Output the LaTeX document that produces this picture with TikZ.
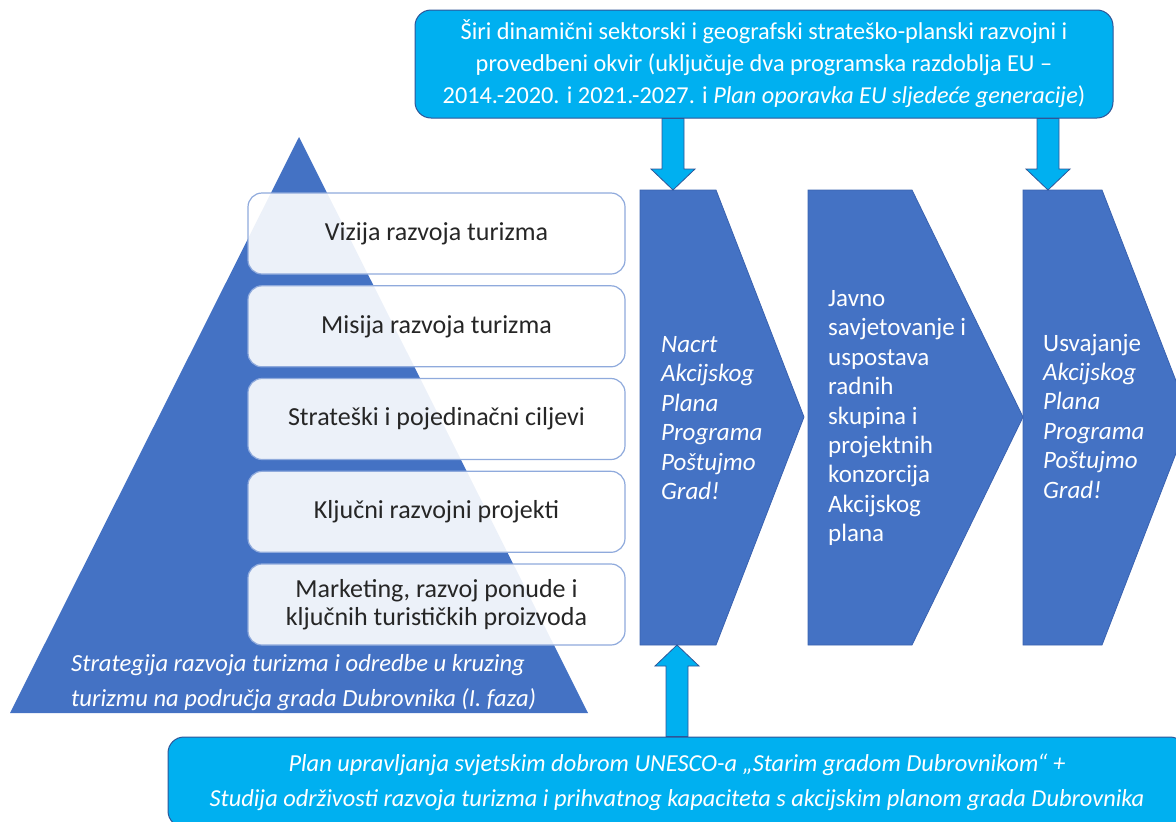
\documentclass[tikz,border=0pt]{standalone}
\usepackage{fontspec}
\setmainfont{Carlito}
\usepackage{tikz}
\usetikzlibrary{calc, arrows.meta}
\definecolor{dbblue}{RGB}{68, 114, 196}
\definecolor{dbedge}{RGB}{58, 98, 176}
\definecolor{dbcyan}{RGB}{0, 176, 240}
\definecolor{dbcyanedge}{RGB}{47, 85, 151}
\definecolor{dbframe}{RGB}{143, 170, 220}
\tikzset{
    pyrbox/.style={draw=dbframe, line width=1.2pt, fill=white, fill opacity=0.9, text opacity=1,
        rounded corners=14pt, minimum width=377pt, minimum height=81pt, align=center,
        font=\fontsize{26}{27.5}\selectfont, text=black!85},
    framebox/.style={draw=dbcyanedge, line width=1pt, fill=dbcyan, rounded corners=16pt,
        align=center, text=white, font=\fontsize{24.3}{32}\selectfont},
    stepshape/.style={draw=dbedge, line width=0.8pt, fill=dbblue},
    steptext/.style={anchor=west, align=left, text=white, inner sep=0pt,
        font=\fontsize{25}{29.4}\selectfont},
    blockarrow/.style={draw=dbcyanedge, line width=0.8pt, fill=dbcyan}
}
\newcommand{\blockarrow}[2]{%
    \path[blockarrow] let \p1=(#1), \p2=(#2), \n1={sign(\y2-\y1)} in
        (\x1-11pt,\y1) -- (\x1-11pt,{\y2-\n1*21pt}) -- (\x1-22pt,{\y2-\n1*21pt}) -- (\x2,\y2)
        -- (\x1+22pt,{\y2-\n1*21pt}) -- (\x1+11pt,{\y2-\n1*21pt}) -- (\x1+11pt,\y1) -- cycle;}
\begin{document}
\begin{tikzpicture}[x=1pt, y=-1pt]
\useasboundingbox (0,0) rectangle (1176,822);
\clip (0,0) rectangle (1176,822);

\fill[dbblue] (299,137) coordinate (apex) -- (588,713) -- (10,713) -- cycle;
\node[anchor=west, align=left, text=white, inner sep=0pt, font=\fontsize{24.6}{35}\selectfont\itshape]
    (strategy) at (71,683) {Strategija razvoja turizma i odredbe u kruzing\\turizmu na područja grada Dubrovnika (I. faza)};

\foreach \y/\name/\txt in {233.5/vision/Vizija razvoja turizma,
                           326.3/mission/Misija razvoja turizma,
                           419/goals/Strateški i pojedinačni ciljevi,
                           511.8/projects/Ključni razvojni projekti,
                           604.5/marketing/{Marketing, razvoj ponude i\\ključnih turističkih proizvoda}}
    \node[pyrbox] (\name) at (436.5,\y) {\txt};

\path[stepshape] (640,190) coordinate (draft) -- (716,190) -- (804,417) -- (716,645) -- (640,645) coordinate (draftbot) -- cycle;
\path[stepshape] (808,190) coordinate (consult) -- (912,190) -- (1023,417) -- (912,645) -- (808,645) -- cycle;
\path[stepshape] (1023,190) coordinate (adopt) -- (1102,190) -- (1190,417) -- (1102,645) -- (1023,645) -- cycle;

\node[steptext] (drafttext) at (661,418) {\itshape Nacrt\\\itshape Akcijskog\\\itshape Plana\\\itshape Programa\\\itshape Poštujmo\\\itshape Grad!};
\node[steptext] (consulttext) at (828,418) {Javno\\savjetovanje i\\uspostava\\radnih\\skupina i\\projektnih\\konzorcija\\Akcijskog\\plana};
\node[steptext] (adopttext) at (1043,416) {Usvajanje\\\itshape Akcijskog\\\itshape Plana\\\itshape Programa\\\itshape Poštujmo\\\itshape Grad!};

\node[framebox, minimum width=698pt, minimum height=108pt] (frame) at (764,64)
    {Širi dinamični sektorski i geografski strateško-planski razvojni i\\provedbeni okvir (uključuje dva programska razdoblja EU –\\2014.-2020. i 2021.-2027. i \textit{Plan oporavka EU sljedeće generacije})};
\node[framebox, minimum width=1018pt, minimum height=90pt, font=\fontsize{24.4}{35}\selectfont] (plans) at (677,782)
    {\itshape Plan upravljanja svjetskim dobrom UNESCO-a „Starim gradom Dubrovnikom“ +\\\itshape Studija održivosti razvoja turizma i prihvatnog kapaciteta s akcijskim planom grada Dubrovnika};

\coordinate (drafttop) at (673,190);
\coordinate (adopttop) at (1048,190);
\coordinate (draftfoot) at (677,645);
\blockarrow{frame.south -| drafttop}{drafttop}
\blockarrow{frame.south -| adopttop}{adopttop}
\blockarrow{plans.north -| draftfoot}{draftfoot}
\end{tikzpicture}
\end{document}
